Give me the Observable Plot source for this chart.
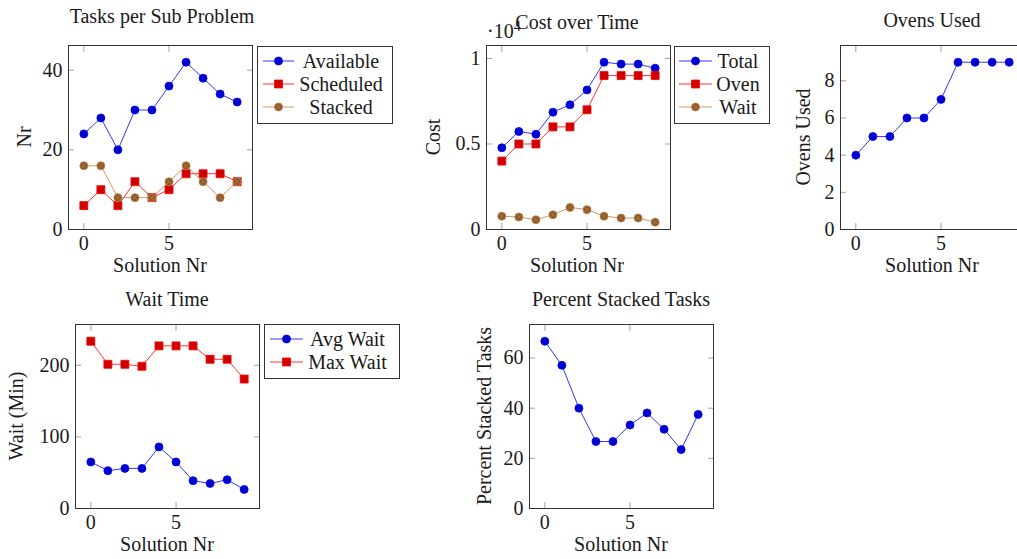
<!DOCTYPE html>
<html><head><meta charset="utf-8">
<script src="https://cdn.jsdelivr.net/npm/d3@7"></script>
<script src="https://cdn.jsdelivr.net/npm/@observablehq/plot@0.6"></script>
<style>
html,body{margin:0;padding:0;background:#fff;overflow:hidden}
#root{position:relative;width:1017px;height:559px;overflow:hidden;background:#fff}
#root svg{position:absolute;max-width:none !important}
</style></head><body><div id="root"></div>
<script>
// ---- data ----
const solutionNr = [0, 1, 2, 3, 4, 5, 6, 7, 8, 9];
const xTicks = [0, 5];

const tasksAvailable = [24, 28, 20, 30, 30, 36, 42, 38, 34, 32];
const tasksScheduled = [6, 10, 6, 12, 8, 10, 14, 14, 14, 12];
const tasksStacked   = [16, 16, 8, 8, 8, 12, 16, 12, 8, 12];
const tasksTicks = [0, 20, 40];

const costTotal = [4780, 5730, 5570, 6860, 7290, 8160, 9780, 9670, 9670, 9430];
const costOven  = [4000, 5000, 5000, 6000, 6000, 7000, 9000, 9000, 9000, 9000];
const costWait  = [780, 730, 570, 860, 1290, 1160, 780, 670, 670, 430];
const costTicks = [0, 5000, 10000];
const costTickLabels = ["0", "0.5", "1"];

const ovensUsed = [4, 5, 5, 6, 6, 7, 9, 9, 9, 9];
const ovensTicks = [0, 2, 4, 6, 8];

const avgWait = [65, 52.8, 56, 56, 86, 65, 38.8, 35, 40.2, 26.6];
const maxWait = [233.6, 201.4, 201.4, 198.6, 227.1, 227.1, 227.1, 208.4, 208.4, 180.8];
const waitTicks = [0, 100, 200];

const percentStacked = [66.7, 57.1, 40, 26.7, 26.7, 33.3, 38.1, 31.6, 23.5, 37.5];
const percentTicks = [0, 20, 40, 60];

// ---- styles ----
const FONT = "'Liberation Serif', 'Times New Roman', serif";
const INK = "#1a1a1a";
const BLUE  = {stroke: "#0000ff", fill: "#0000cc", symbol: "circle", r: 4};
const RED   = {stroke: "#ff0000", fill: "#cc0000", symbol: "square", r: 4.5};
const BROWN = {stroke: "#bf8040", fill: "#87592e", symbol: "circle", r: 4, otimes: true};

const panels = [
  {fl: 68, ft: 45, yTicks: tasksTicks, series: [
    {name: "Available", values: tasksAvailable, ...BLUE},
    {name: "Scheduled", values: tasksScheduled, ...RED},
    {name: "Stacked", values: tasksStacked, ...BROWN}]},
  {fl: 486, ft: 45, yTicks: costTicks, yFmt: (d) => costTickLabels[costTicks.indexOf(d)], series: [
    {name: "Total", values: costTotal, ...BLUE},
    {name: "Oven", values: costOven, ...RED},
    {name: "Wait", values: costWait, ...BROWN}]},
  {fl: 840, ft: 45, yTicks: ovensTicks, series: [
    {name: "Ovens", values: ovensUsed, ...BLUE}]},
  {fl: 75, ft: 324, yTicks: waitTicks, series: [
    {name: "Avg Wait", values: avgWait, ...BLUE},
    {name: "Max Wait", values: maxWait, ...RED}]},
  {fl: 529, ft: 324, yTicks: percentTicks, series: [
    {name: "Percent", values: percentStacked, ...BLUE}]}
];

const root = document.getElementById("root");
const FW = 184, FH = 184, ML = 64, MR = 14, MT = 14, MB = 44;
const TICK = "#8a8a8a";

for (const p of panels) {
  const yMax = d3.max(p.series.flatMap((s) => s.values)) * 1.1;
  const marks = [
    Plot.axisX({ticks: xTicks, anchor: "bottom", tickSize: 0, tickPadding: 6, label: null, fill: INK}),
    Plot.axisX({ticks: xTicks, anchor: "bottom", tickSize: -6, fill: "none", stroke: TICK, strokeWidth: 0.8, label: null}),
    Plot.axisX({ticks: xTicks, anchor: "top", tickSize: -6, fill: "none", stroke: TICK, strokeWidth: 0.8, label: null}),
    Plot.axisY({ticks: p.yTicks, anchor: "left", tickSize: 0, tickPadding: 6, label: null, fill: INK, tickFormat: p.yFmt}),
    Plot.axisY({ticks: p.yTicks, anchor: "left", tickSize: -6, fill: "none", stroke: TICK, strokeWidth: 0.8, label: null}),
    Plot.axisY({ticks: p.yTicks, anchor: "right", tickSize: -6, fill: "none", stroke: TICK, strokeWidth: 0.8, label: null})
  ];
  for (const s of p.series) {
    const data = solutionNr.map((x, i) => ({x, y: s.values[i]}));
    marks.push(Plot.line(data, {x: "x", y: "y", stroke: s.stroke, strokeWidth: 0.8}));
    marks.push(Plot.dot(data, {x: "x", y: "y", symbol: s.symbol, r: s.r, fill: s.fill, stroke: s.stroke, strokeWidth: 0.8}));
    if (s.otimes) marks.push(Plot.dot(data, {x: "x", y: "y", symbol: "times", r: 2.4, stroke: s.stroke, strokeWidth: 0.7}));
  }
  marks.push(Plot.frame({stroke: "#333", strokeWidth: 1}));
  const svg = Plot.plot({
    width: FW + ML + MR, height: FH + MT + MB,
    marginLeft: ML, marginRight: MR, marginTop: MT, marginBottom: MB,
    x: {domain: [-0.9, 9.9]},
    y: {domain: [0, yMax]},
    style: {fontFamily: FONT, fontSize: "20px", color: INK, background: "transparent", overflow: "visible"},
    marks
  });
  svg.style.left = (p.fl - ML) + "px";
  svg.style.top = (p.ft - MT) + "px";
  root.appendChild(svg);
}

// ---- overlay: titles, axis labels, legends ----
const titles = [
  {text: "Tasks per Sub Problem", x: 162, y: 23},
  {text: "Cost over Time", x: 577, y: 29},
  {text: "Ovens Used", x: 932, y: 27},
  {text: "Wait Time", x: 167, y: 306},
  {text: "Percent Stacked Tasks", x: 621, y: 306}
];
const xLabels = [
  {text: "Solution Nr", x: 160, y: 272},
  {text: "Solution Nr", x: 577, y: 272},
  {text: "Solution Nr", x: 932, y: 272},
  {text: "Solution Nr", x: 167, y: 551},
  {text: "Solution Nr", x: 621, y: 551}
];
const yLabels = [
  {text: "Nr", x: 31, y: 137},
  {text: "Cost", x: 440, y: 137},
  {text: "Ovens Used", x: 810, y: 137},
  {text: "Wait (Min)", x: 22.5, y: 416},
  {text: "Percent Stacked Tasks", x: 491, y: 416}
];
const legends = [
  {x0: 257, y0: 46, x1: 392, y1: 123, lx0: 263, lx1: 294, tx: 341, rows: [61, 84, 107], series: panels[0].series},
  {x0: 674, y0: 46, x1: 769, y1: 123, lx0: 679, lx1: 712, tx: 738, rows: [61, 84, 107], series: panels[1].series},
  {x0: 264, y0: 324, x1: 399, y1: 378, lx0: 270, lx1: 303, tx: 347.5, rows: [339, 362], series: panels[3].series}
];

const ov = d3.create("svg").attr("width", 1017).attr("height", 559)
  .style("left", "0px").style("top", "0px")
  .attr("font-family", FONT).attr("font-size", 20).attr("fill", INK);

for (const t of [...titles, ...xLabels]) {
  ov.append("text").attr("x", t.x).attr("y", t.y).attr("text-anchor", "middle").text(t.text);
}
for (const t of yLabels) {
  ov.append("text").attr("transform", `translate(${t.x},${t.y}) rotate(-90)`).attr("text-anchor", "middle").text(t.text);
}
// tick scale label of the cost axis
const sc = ov.append("text").attr("x", 487).attr("y", 38);
sc.append("tspan").text("·10");
sc.append("tspan").attr("font-size", 14).attr("dy", -7).text("4");

for (const L of legends) {
  ov.append("rect").attr("x", L.x0 + 0.5).attr("y", L.y0 + 0.5).attr("width", L.x1 - L.x0).attr("height", L.y1 - L.y0)
    .attr("fill", "#fff").attr("stroke", "#333").attr("stroke-width", 1);
  L.series.forEach((s, i) => {
    const cy = L.rows[i], cx = (L.lx0 + L.lx1) / 2;
    ov.append("line").attr("x1", L.lx0).attr("x2", L.lx1).attr("y1", cy).attr("y2", cy)
      .attr("stroke", s.stroke).attr("stroke-width", 0.8);
    const type = s.symbol === "square" ? d3.symbolSquare : d3.symbolCircle;
    ov.append("path").attr("transform", `translate(${cx},${cy})`)
      .attr("d", d3.symbol(type, Math.PI * s.r * s.r)())
      .attr("fill", s.fill).attr("stroke", s.stroke).attr("stroke-width", 0.8);
    if (s.otimes) {
      ov.append("path").attr("transform", `translate(${cx},${cy})`)
        .attr("d", d3.symbol(d3.symbolTimes, Math.PI * 2.4 * 2.4)())
        .attr("fill", "none").attr("stroke", s.stroke).attr("stroke-width", 0.7);
    }
    ov.append("text").attr("x", L.tx).attr("y", cy + 6.5).attr("text-anchor", "middle").text(s.name);
  });
}
root.appendChild(ov.node());
</script></body></html>
